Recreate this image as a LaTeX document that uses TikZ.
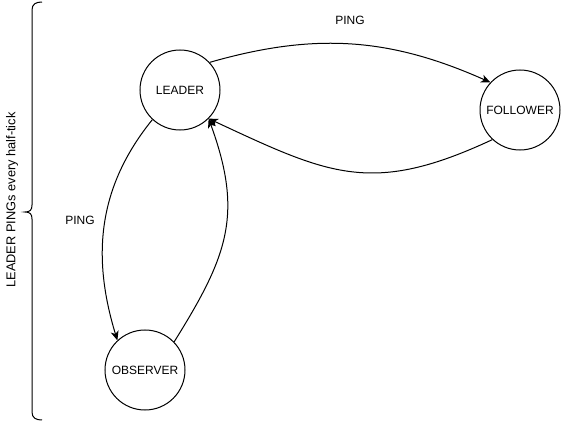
\documentclass[tikz,border=0pt]{standalone}
\usepackage{fontspec}
\setmainfont{Liberation Sans}
\usetikzlibrary{arrows.meta}

\tikzset{every picture/.style={line width=0.75pt}}
\tikzset{
  state/.style={draw, circle, minimum size=60pt, inner sep=0pt, font=\fontsize{9}{11}\selectfont},
  lbl/.style={font=\fontsize{9}{11}\selectfont},
  msg/.style={-{Stealth[length=7pt,width=6pt,inset=2pt]}}
}

\begin{document}
\begin{tikzpicture}[x=0.75pt,y=0.75pt,yscale=-1,xscale=1]
	\useasboundingbox (0,0) rectangle (562,421);

	% States
	\node [state] (leader) at (180,90) {LEADER};
	\node [state] (follower) at (520,110) {FOLLOWER};
	\node [state] (observer) at (145,370) {OBSERVER};

	% Curly Bracket
	\draw (42,2) .. controls (36,2) and (32,4) .. (32,10) -- (32,205) .. controls (32,210) and (30,212) .. (25,212) .. controls (30,212) and (32,214) .. (32,219) -- (32,412) .. controls (32,418) and (36,420) .. (42,420) ;

	% Connectors (angles in the flipped y system)
	\draw [msg] (leader.43) to [out=-16,in=204] (follower.137) ;
	\draw [msg] (follower.227) to [out=155,in=25,looseness=1.2] (leader.-45) ;
	\draw [msg] (leader.227) to [out=129,in=-107] (observer.133) ;
	\draw [msg] (observer.44) to [out=-58,in=70,looseness=1.15] (leader.-45) ;

	% Text Node
	\node [lbl] (pingtop) at (350,20) {PING};
	% Text Node
	\node [lbl] (pingleft) at (80,220) {PING};
	% Text Node
	\node [lbl, rotate=90, font=\fontsize{9.6}{11}\selectfont] (period) at (12,200) {LEADER PINGs every half-tick};

\end{tikzpicture}
\end{document}
